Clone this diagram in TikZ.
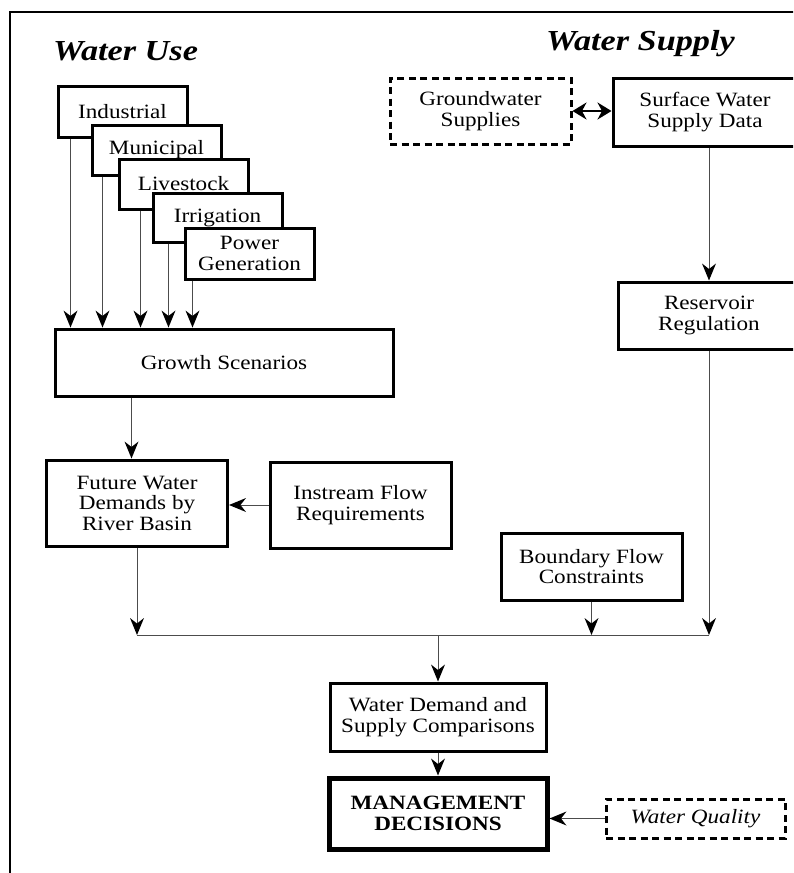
\documentclass[tikz,border=0pt]{standalone}
\usepackage{fontspec}
\setmainfont{Liberation Serif}[FakeStretch=1.14]
\newfontfamily\headfam{Liberation Serif}[FakeStretch=1.18]
\usetikzlibrary{arrows.meta,calc}

\newcommand\bodyfont{\fontsize{20.3}{20.5}\selectfont}
\newcommand\headfont{\headfam\fontsize{29}{31}\selectfont\bfseries\itshape}

\tikzset{
  box/.style={draw=black, line width=3pt, fill=white, inner sep=0pt,
    align=center, font=\bodyfont},
  dashbox/.style={box, dash pattern=on 7pt off 4.5pt},
  heavybox/.style={box, line width=5pt},
  tip/.tip={Stealth[length=17pt,width=14pt,inset=5.5pt,line width=0pt,color=black,fill=black]},
  conn/.style={draw=black!70, line width=1pt, -tip},
  plain/.style={draw=black!70, line width=1pt},
  twoway/.style={draw=black, line width=2pt,
    {Stealth[length=14pt,width=17pt,inset=4.5pt]}-{Stealth[length=14pt,width=17pt,inset=4.5pt]}},
  heading/.style={font=\headfont, inner sep=0pt, anchor=base west},
}

\begin{document}
\begin{tikzpicture}[x=1pt,y=-1pt]
\useasboundingbox (0,0) rectangle (793,873);
\clip (0,0) rectangle (793,873);

% outer frame (runs off the right and bottom edges)
\draw[line width=2.5pt] (10,900) -- (10,12) -- (820,12);

% headings
\node[heading] (hUse) at (53,60) {Water Use};
\node[heading] (hSupply) at (546,50) {Water Supply};

% stacked water-use categories
\node[box, minimum width=129pt, minimum height=51pt] (ind) at (122.5,111.5) {Industrial};
\node[box, minimum width=129pt, minimum height=50pt] (mun) at (156.5,150) {Municipal};
\node[box, minimum width=129pt, minimum height=50pt] (liv) at (183.5,184) {Livestock};
\node[box, minimum width=129pt, minimum height=49pt] (irr) at (217.5,217.5) {Irrigation};
\node[box, minimum width=129pt, minimum height=51pt] (pow) at (249.5,253.5) {Power\\Generation};

\node[box, minimum width=338pt, minimum height=67pt] (grow) at (224,362.5) {Growth Scenarios};
\node[box, minimum width=181pt, minimum height=86pt] (fut) at (137,503) {Future Water\\Demands by\\River Basin};
\node[box, minimum width=181pt, minimum height=86pt] (ins) at (360.5,505) {Instream Flow\\Requirements};

% water-supply side
\node[dashbox, minimum width=181pt, minimum height=66pt] (gw) at (480.5,111) {Groundwater\\Supplies};
\node[box, minimum width=184pt, minimum height=68pt] (sw) at (705,112) {Surface Water\\Supply Data};
\node[box, minimum width=182pt, minimum height=67pt] (res) at (709,315.5) {Reservoir\\Regulation};
\node[box, minimum width=181pt, minimum height=67pt] (bnd) at (591.5,566.5) {Boundary Flow\\Constraints};

% results
\node[box, minimum width=216pt, minimum height=68pt] (wds) at (438,717) {Water Demand and\\Supply Comparisons};
\node[heavybox, minimum width=218pt, minimum height=71pt] (mgt) at (438,813.5) {\bfseries MANAGEMENT\\\bfseries DECISIONS};
\node[dashbox, minimum width=179pt, minimum height=39pt] (wq) at (695.5,818.5) {\itshape Water Quality};

% category arrows into the growth scenarios
\coordinate (ia) at ($(ind.south west)+(14,0)$);
\coordinate (ma) at ($(mun.south west)+(12,0)$);
\coordinate (la) at ($(liv.south west)+(23,0)$);
\coordinate (ra) at ($(irr.south west)+(17,0)$);
\coordinate (pa) at ($(pow.south west)+(9,0)$);
\foreach \c in {ia,ma,la,ra,pa}
  \draw[conn] (\c) -- (\c |- grow.north);

\coordinate (ga) at ($(grow.south west)+(78,0)$);
\draw[conn] (ga) -- (ga |- fut.north);
\draw[conn] (ins.west) -- (ins.west -| fut.east);

% supply chain
\draw[twoway] (gw.east) -- (gw.east -| sw.west);
\coordinate (sa) at (res.north |- sw.south);
\draw[conn] (sa) -- (res.north);

% collector line
\coordinate (jl) at (fut.south |- 0,635);
\coordinate (jb) at (bnd.south |- jl);
\coordinate (jr) at (res.south |- jl);
\coordinate (jm) at (wds.north |- jl);
\draw[conn] (fut.south) -- (jl);
\draw[conn] (bnd.south) -- (jb);
\draw[conn] (res.south) -- (jr);
\draw[plain] (jl) -- (jr);
\draw[conn] (jm) -- (wds.north);

\draw[conn] (wds.south) -- (mgt.north);
\draw[conn] (wq.west) -- (wq.west -| mgt.east);
\end{tikzpicture}
\end{document}
